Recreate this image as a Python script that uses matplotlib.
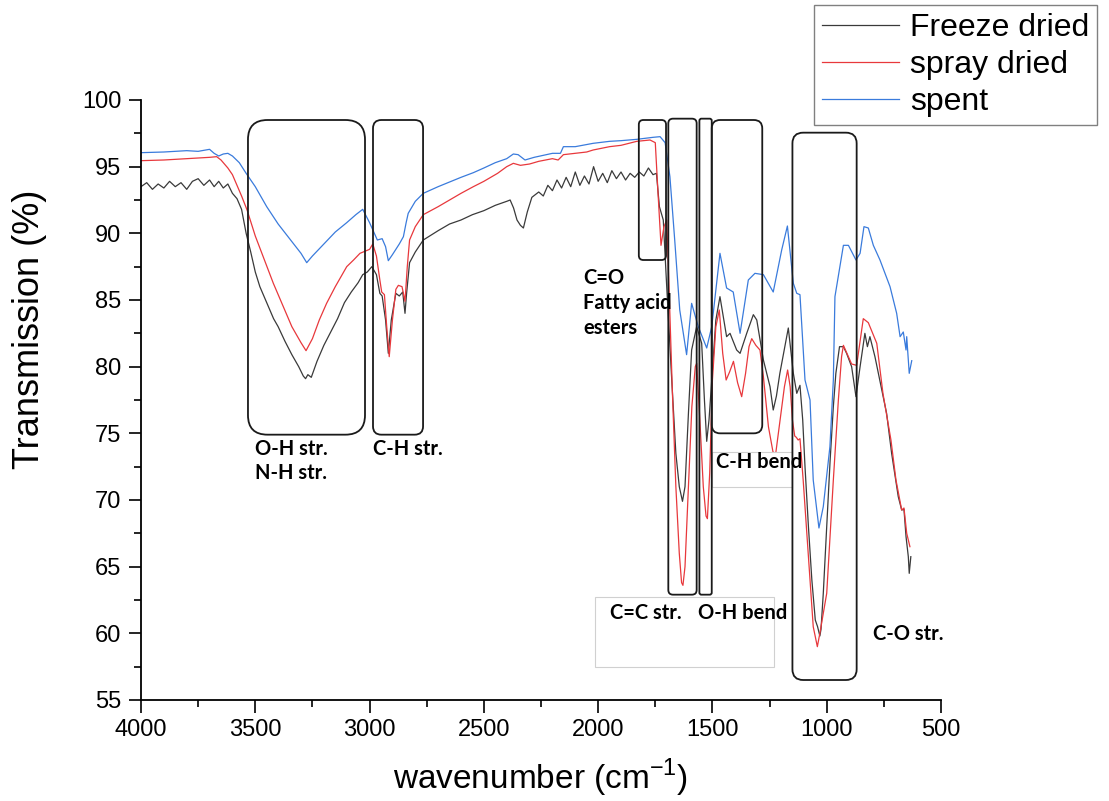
import matplotlib
matplotlib.use("Agg")
import matplotlib.pyplot as plt
from matplotlib.patches import FancyBboxPatch, Rectangle
from matplotlib.transforms import IdentityTransform

# ---- data (wavenumber, transmission %) ----
freeze_wn = [4000, 3975, 3950, 3925, 3900, 3875, 3850, 3825, 3800, 3775, 3750, 3725,
             3700, 3680, 3660, 3640, 3620, 3600, 3580, 3560, 3540, 3520, 3500, 3480,
             3450, 3420, 3400, 3370, 3340, 3310, 3290, 3280, 3270, 3255, 3230, 3200,
             3170, 3140, 3110, 3080, 3050, 3030, 3010, 2990, 2970, 2955, 2945, 2930,
             2918, 2905, 2885, 2870, 2855, 2845, 2838, 2825, 2800, 2765, 2700, 2650,
             2600, 2550, 2500, 2450, 2400, 2385, 2370, 2355, 2340, 2327, 2310, 2290,
             2260, 2240, 2220, 2200, 2180, 2160, 2140, 2120, 2100, 2080, 2060, 2040,
             2020, 2000, 1980, 1960, 1940, 1920, 1900, 1880, 1860, 1840, 1820, 1800,
             1780, 1760, 1745, 1732, 1715, 1700, 1678, 1660, 1645, 1631, 1620, 1605,
             1591, 1569, 1547, 1535, 1525, 1515, 1503, 1485, 1467, 1438, 1423, 1394,
             1379, 1350, 1321, 1306, 1277, 1248, 1234, 1220, 1205, 1168, 1146, 1131,
             1117, 1105, 1095, 1080, 1065, 1050, 1040, 1030, 1025, 1015, 1000, 985,
             971, 960, 944, 927, 913, 891, 872, 854, 833, 822, 811, 789, 767, 738,
             716, 687, 672, 662, 653, 643, 639, 632]
freeze_t = [93.5, 93.8, 93.3, 93.7, 93.4, 93.9, 93.5, 93.8, 93.3, 93.9, 94.1, 93.6,
            94.0, 93.5, 93.9, 93.4, 93.7, 93.0, 92.6, 91.8, 90.0, 88.6, 87.1, 86.0,
            84.8, 83.6, 83.0, 81.9, 80.9, 80.0, 79.3, 79.1, 79.4, 79.2, 80.4, 81.6,
            82.6, 83.6, 84.8, 85.6, 86.3, 86.9, 87.1, 87.5, 86.9, 85.5, 85.3, 83.5,
            81.0, 83.5, 85.5, 85.3, 85.6, 84.0, 85.5, 87.8, 88.6, 89.5, 90.2, 90.7,
            91.0, 91.4, 91.7, 92.1, 92.4, 92.5, 91.9, 91.0, 90.6, 90.4, 91.6, 92.7,
            93.1, 92.8, 93.6, 93.2, 94.0, 93.4, 94.2, 93.5, 94.6, 93.6, 94.3, 93.7,
            95.0, 93.9, 94.5, 93.8, 94.7, 94.1, 94.6, 94.0, 94.5, 94.2, 94.6, 94.3,
            94.9, 94.4, 94.5, 92.0, 91.0, 86.0, 79.0, 73.5, 71.0, 69.9, 71.0, 76.5,
            81.25, 83.0, 81.75, 77.5, 74.4, 76.0, 79.0, 83.5, 85.25, 82.25, 82.5, 81.25,
            81.0, 82.5, 83.9, 83.5, 80.5, 78.5, 76.75, 77.8, 79.5, 82.9, 79.5, 78.0,
            78.6, 76.0, 72.5, 68.0, 64.0, 61.0, 60.5, 59.8, 60.3, 63.0, 68.0, 73.0,
            77.0, 79.5, 81.5, 81.5, 81.0, 80.0, 77.75, 80.0, 82.5, 81.5, 82.25, 80.75,
            78.9, 76.5, 73.5, 70.25, 69.25, 69.3, 67.25, 65.75, 64.5, 65.75]

spray_wn = [4000, 3900, 3800, 3700, 3669, 3650, 3620, 3600, 3560, 3536, 3500, 3460,
            3421, 3380, 3340, 3300, 3278, 3250, 3220, 3188, 3150, 3100, 3070, 3042,
            3000, 2986, 2970, 2955, 2947, 2935, 2925, 2914, 2900, 2885, 2874, 2858,
            2845, 2835, 2825, 2800, 2765, 2700, 2600, 2546, 2500, 2440, 2400, 2371,
            2340, 2300, 2260, 2200, 2175, 2152, 2100, 2050, 2022, 1950, 1900, 1831,
            1773, 1750, 1738, 1725, 1712, 1700, 1690, 1675, 1660, 1645, 1635, 1629,
            1620, 1605, 1590, 1575, 1569, 1555, 1540, 1528, 1522, 1512, 1500, 1485,
            1470, 1455, 1440, 1425, 1408, 1390, 1372, 1355, 1340, 1328, 1310, 1292,
            1277, 1255, 1235, 1223, 1200, 1185, 1171, 1160, 1150, 1140, 1133, 1125,
            1117, 1103, 1073, 1059, 1041, 1030, 1000, 971, 949, 935, 927, 891, 869,
            840, 818, 781, 754, 719, 697, 672, 662, 650, 636]
spray_t = [95.45, 95.5, 95.6, 95.7, 95.75, 95.5, 94.9, 94.4, 92.8, 91.75, 89.8, 88.0,
           86.25, 84.6, 83.0, 81.8, 81.2, 82.1, 83.5, 84.75, 86.0, 87.5, 88.0, 88.5,
           88.8, 89.2, 88.3, 86.5, 85.6, 85.4, 83.0, 80.75, 83.5, 85.8, 86.1, 86.0,
           84.9, 87.5, 89.5, 90.5, 91.4, 92.0, 93.0, 93.5, 93.9, 94.5, 95.0, 95.25,
           95.1, 95.2, 95.4, 95.6, 95.5, 95.9, 96.0, 96.1, 96.25, 96.5, 96.6, 96.9,
           97.0, 96.8, 93.0, 89.1, 90.5, 91.0, 86.0, 78.0, 71.0, 66.0, 63.8, 63.6,
           65.0, 71.0, 77.0, 80.0, 80.25, 76.0, 71.0, 68.8, 68.6, 72.0, 79.0, 83.0,
           84.25, 81.0, 79.0, 79.6, 80.4, 78.8, 77.75, 79.5, 81.5, 82.1, 81.6, 81.25,
           79.25, 75.5, 73.6, 73.5, 76.5, 78.5, 79.75, 78.5, 76.0, 74.8, 74.7, 74.5,
           74.6, 71.5, 64.0, 60.5, 59.0, 60.0, 63.0, 71.5, 77.5, 80.75, 81.6, 80.2, 80.1,
           83.6, 83.3, 81.75, 78.0, 74.5, 71.5, 69.25, 69.4, 67.5, 66.5]

spent_wn = [4000, 3900, 3800, 3750, 3700, 3680, 3660, 3640, 3620, 3600, 3570, 3540,
            3500, 3450, 3400, 3350, 3300, 3275, 3250, 3200, 3150, 3100, 3060, 3030,
            3000, 2966, 2945, 2930, 2918, 2900, 2870, 2852, 2840, 2831, 2800, 2765,
            2700, 2600, 2546, 2500, 2450, 2400, 2371, 2350, 2320, 2280, 2200, 2165,
            2152, 2100, 2022, 1950, 1900, 1831, 1760, 1729, 1707, 1686, 1665, 1643,
            1613, 1591, 1562, 1525, 1503, 1467, 1438, 1409, 1379, 1343, 1314, 1277,
            1234, 1197, 1172, 1146, 1131, 1117, 1095, 1073, 1059, 1034, 1015, 986,
            971, 964, 927, 905, 872, 854, 837, 818, 796, 767, 723, 694, 679, 665,
            653, 650, 639, 628]
spent_t = [96.05, 96.1, 96.2, 96.15, 96.3, 96.0, 95.8, 95.95, 96.0, 95.8, 95.3, 94.5,
           93.5, 92.0, 90.7, 89.6, 88.5, 87.8, 88.3, 89.2, 90.1, 90.8, 91.4, 91.8,
           90.8, 89.5, 89.6, 89.0, 87.95, 88.4, 89.2, 89.75, 90.8, 91.5, 92.4, 93.0,
           93.5, 94.2, 94.55, 94.9, 95.3, 95.6, 95.95, 95.9, 95.5, 95.7, 96.0, 96.0,
           96.5, 96.5, 96.75, 96.9, 96.95, 97.05, 97.2, 97.25, 96.8, 94.25, 89.5, 84.25,
           80.9, 84.75, 83.0, 81.4, 83.0, 88.5, 85.9, 85.6, 82.5, 86.5, 87.0, 86.9,
           85.6, 88.75, 90.55, 86.25, 85.5, 85.4, 79.0, 77.5, 71.5, 67.9, 69.5, 74.0,
           79.0, 85.25, 89.1, 89.1, 88.0, 88.5, 90.5, 90.4, 89.1, 88.0, 86.0, 84.0,
           82.25, 82.6, 81.25, 82.25, 79.5, 80.45]

labels = ["Freeze dried", "spray dried", "spent"]
colors = ["#3a3a3a", "#e8383c", "#3a7bdc"]

# annotation boxes: (wn_left, wn_right, T_bottom, T_top)
band_boxes = [
    (3532, 3020, 74.9, 98.5),   # O-H / N-H str
    (2985, 2766, 74.9, 98.5),   # C-H str
    (1822, 1703, 88.0, 98.5),   # C=O
    (1693, 1569, 62.9, 98.6),   # C=C str
    (1557, 1503, 62.9, 98.6),   # O-H bend
    (1503, 1282, 75.0, 98.5),   # C-H bend
    (1150, 869, 56.5, 97.55),   # C-O str
]
# faint label frames
text_frames = [(2014, 1231, 57.5, 62.7), (1502, 1152, 71.0, 73.6)]
# (text, wn, T) top-left anchor
band_labels = [
    ("O-H str.\nN-H str.", 3500, 74.6),
    ("C-H str.", 2985, 74.6),
    ("C=O\nFatty acid\nesters", 2066, 87.4),
    ("C-H bend", 1484, 73.6),
    ("C=C str.", 1948, 62.3),
    ("O-H bend", 1563, 62.3),
    ("C-O str.", 797, 60.7),
]

fig = plt.figure(figsize=(11.09, 8.01), dpi=100)
ax = fig.add_axes([141 / 1109, 1 - 700 / 801, 800 / 1109, 600 / 801])

series = [(freeze_wn, freeze_t), (spray_wn, spray_t), (spent_wn, spent_t)]
for (wn, t), lab, col in zip(series, labels, colors):
    ax.plot(wn, t, color=col, lw=0.9, label=lab, zorder=2)

ax.set_xlim(4000, 500)
ax.set_ylim(55, 100)
ax.set_xticks(range(4000, 499, -500))
ax.set_xticks(range(3750, 500, -500), minor=True)
ax.set_yticks(range(55, 101, 5))
ax.set_yticks([57.5 + 5 * i for i in range(9)], minor=True)
for s in ["top", "right"]:
    ax.spines[s].set_visible(False)
for s in ["left", "bottom"]:
    ax.spines[s].set_linewidth(1.3)
ax.tick_params(which="major", direction="out", length=9, width=1.2,
               labelsize=17, pad=5)
ax.tick_params(which="minor", direction="out", length=5, width=1.2)
for lab in ax.get_xticklabels() + ax.get_yticklabels():
    lab.set_fontfamily("Liberation Sans")

ax.set_ylabel("Transmission (%)", fontsize=26, family="Liberation Sans")
ax.set_xlabel("wavenumber (cm$^{\\mathregular{-1}}$)", fontsize=24,
              family="Liberation Sans")
ax.yaxis.set_label_coords(-0.118, 0.617)
ax.xaxis.set_label_coords(0.5, -0.095)


def px_rect(x0, x1, y0, y1):
    p0 = ax.transData.transform((x0, y0))
    p1 = ax.transData.transform((x1, y1))
    return (min(p0[0], p1[0]), min(p0[1], p1[1]),
            abs(p1[0] - p0[0]), abs(p1[1] - p0[1]))


for (x0, x1, y0, y1) in text_frames:
    px, py, w, h = px_rect(x0, x1, y0, y1)
    ax.add_patch(Rectangle((px, py), w, h, transform=IdentityTransform(),
                           facecolor="white", edgecolor="#d0d0d0", lw=0.8,
                           zorder=3, clip_on=False))

for (x0, x1, y0, y1) in band_boxes:
    px, py, w, h = px_rect(x0, x1, y0, y1)
    rad = 0.167 * min(w, h)
    ax.add_patch(FancyBboxPatch((px, py), w, h,
                                boxstyle=f"round,pad=0,rounding_size={rad}",
                                transform=IdentityTransform(), facecolor="none",
                                edgecolor="#1a1a1a", lw=1.3, zorder=4,
                                clip_on=False))

for txt, x, y in band_labels:
    ax.text(x, y, txt, ha="left", va="top", fontsize=14.5, fontweight="bold",
            family="Lato", linespacing=1.3, zorder=5)

fig.legend(loc="upper right", bbox_to_anchor=(1097 / 1109, 1 - 5 / 801),
           bbox_transform=fig.transFigure, borderaxespad=0, frameon=True,
           fancybox=False, edgecolor="#808080", framealpha=1,
           prop={"family": "Liberation Sans", "size": 23},
           handlelength=2.4, handletextpad=0.35, labelspacing=0.22,
           borderpad=0.25)

fig.savefig("out.png", dpi=100)
